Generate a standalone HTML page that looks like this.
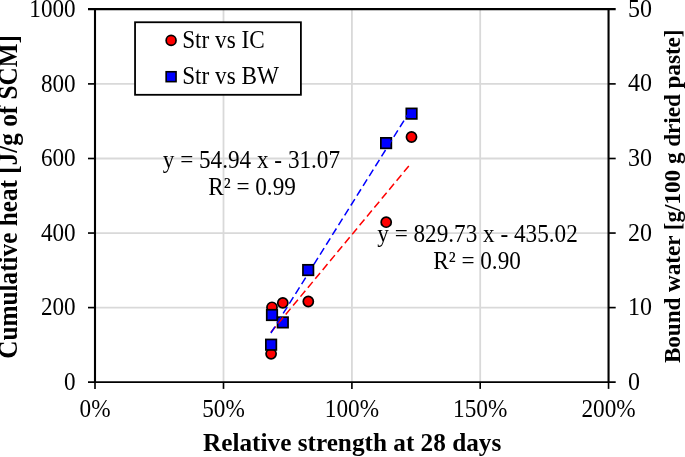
<!DOCTYPE html>
<html><head><meta charset="utf-8">
<style>
html,body{margin:0;padding:0;background:#fff;}
svg{display:block;}
text{font-family:"Liberation Serif","Times New Roman",serif;fill:#000;}
.t{font-size:24px;}
.l{font-size:24px;}
.e{font-size:23.2px;}
.b{font-size:25.25px;font-weight:bold;}
.b2{font-size:23.1px;font-weight:bold;}
</style></head><body>
<svg width="685" height="457" viewBox="0 0 685 457">
<rect width="685" height="457" fill="#fff"/>
<!-- gridlines -->
<g stroke="#d9d9d9" stroke-width="1.8" fill="none">
<line x1="223.5" y1="9.1" x2="223.5" y2="382.15"/>
<line x1="351.9" y1="9.1" x2="351.9" y2="382.15"/>
<line x1="480.2" y1="9.1" x2="480.2" y2="382.15"/>
<line x1="95" y1="307.6" x2="608.55" y2="307.6"/>
<line x1="95" y1="233.05" x2="608.55" y2="233.05"/>
<line x1="95" y1="158.5" x2="608.55" y2="158.5"/>
<line x1="95" y1="83.9" x2="608.55" y2="83.9"/>
</g>
<!-- axes -->
<g stroke="#000" stroke-width="2.1" fill="none">
<line x1="95" y1="9.1" x2="95" y2="382.15"/>
<line x1="608.55" y1="9.1" x2="608.55" y2="382.15"/>
</g>
<g stroke="#000" stroke-width="1.8" fill="none">
<line x1="88" y1="9.1" x2="615.7" y2="9.1" stroke-width="2.1"/>
<line x1="88" y1="382.15" x2="615.7" y2="382.15"/>
</g>
<g stroke="#000" stroke-width="1.65" fill="none">
<line x1="95" y1="382.15" x2="95" y2="388.9"/>
<line x1="223.5" y1="382.15" x2="223.5" y2="388.9"/>
<line x1="351.9" y1="382.15" x2="351.9" y2="388.9"/>
<line x1="480.2" y1="382.15" x2="480.2" y2="388.9"/>
<line x1="608.55" y1="382.15" x2="608.55" y2="388.9"/>
<line x1="88" y1="307.6" x2="95" y2="307.6"/>
<line x1="608.55" y1="307.6" x2="615.7" y2="307.6"/>
<line x1="88" y1="233.05" x2="95" y2="233.05"/>
<line x1="608.55" y1="233.05" x2="615.7" y2="233.05"/>
<line x1="88" y1="158.5" x2="95" y2="158.5"/>
<line x1="608.55" y1="158.5" x2="615.7" y2="158.5"/>
<line x1="88" y1="83.9" x2="95" y2="83.9"/>
<line x1="608.55" y1="83.9" x2="615.7" y2="83.9"/>
</g>
<!-- red circles -->
<g fill="#ff0000" stroke="#000" stroke-width="1.7">
<circle cx="271.1" cy="353.8" r="5.05"/>
<circle cx="272.0" cy="307.3" r="5.05"/>
<circle cx="282.8" cy="302.9" r="5.05"/>
<circle cx="308.3" cy="301.5" r="5.05"/>
<circle cx="386.2" cy="222.2" r="5.05"/>
<circle cx="411.5" cy="137.0" r="5.05"/>
</g>
<!-- blue squares -->
<g fill="#0000ff" stroke="#000" stroke-width="1.7">
<rect x="265.85" y="339.45" width="10.5" height="10.5"/>
<rect x="266.75" y="309.75" width="10.5" height="10.5"/>
<rect x="277.55" y="317.15" width="10.5" height="10.5"/>
<rect x="380.85" y="137.85" width="10.5" height="10.5"/>
<rect x="406.3" y="108.4" width="10.5" height="10.5"/>
</g>
<!-- trendlines -->
<g fill="none" stroke-width="1.5" stroke-dasharray="7.6 3.98">
<line x1="270.9" y1="332.3" x2="410.3" y2="164.2" stroke="#ff0000"/>
<line x1="270.9" y1="333.1" x2="412.1" y2="107.6" stroke="#0000ff"/>
</g>
<rect x="302.95" y="264.8" width="10.5" height="10.5" fill="#0000ff" stroke="#000" stroke-width="1.7"/>
<!-- legend -->
<rect x="135.05" y="22.25" width="165.85" height="72.55" fill="#fff" stroke="#000" stroke-width="1.8"/>
<circle cx="171.1" cy="40.4" r="4.95" fill="#ff0000" stroke="#000" stroke-width="1.7"/>
<rect x="166.15" y="71.75" width="9.9" height="9.9" fill="#0000ff" stroke="#000" stroke-width="1.6"/>
<text class="l" transform="translate(182.2,47.8) scale(0.968,1.06)">Str vs IC</text>
<text class="l" transform="translate(182.2,83.8) scale(0.968,1.06)">Str vs BW</text>
<!-- left tick labels -->
<g class="t" text-anchor="end">
<text transform="translate(75.6,389.9) scale(0.964,1.06)">0</text>
<text transform="translate(75.6,315.4) scale(0.964,1.06)">200</text>
<text transform="translate(75.6,240.9) scale(0.964,1.06)">400</text>
<text transform="translate(75.6,166.3) scale(0.964,1.06)">600</text>
<text transform="translate(75.6,91.7) scale(0.964,1.06)">800</text>
<text transform="translate(75.6,16.9) scale(0.964,1.06)">1000</text>
</g>
<!-- right tick labels -->
<g class="t" text-anchor="start">
<text transform="translate(627.9,389.6) scale(1,1.07)">0</text>
<text transform="translate(627.9,315.1) scale(1,1.07)">10</text>
<text transform="translate(627.9,240.6) scale(1,1.07)">20</text>
<text transform="translate(627.9,166.0) scale(1,1.07)">30</text>
<text transform="translate(627.9,91.4) scale(1,1.07)">40</text>
<text transform="translate(627.9,16.6) scale(1,1.07)">50</text>
</g>
<!-- bottom tick labels -->
<g class="t" text-anchor="middle">
<text transform="translate(95.0,416.7) scale(0.969,1.04)">0%</text>
<text transform="translate(223.5,416.7) scale(0.969,1.04)">50%</text>
<text transform="translate(351.9,416.7) scale(0.969,1.04)">100%</text>
<text transform="translate(480.2,416.7) scale(0.969,1.04)">150%</text>
<text transform="translate(608.5,416.7) scale(0.969,1.04)">200%</text>
</g>
<!-- equations -->
<g class="e" text-anchor="middle">
<text transform="translate(251.4,168.4) scale(1,1.06)">y = 54.94 x - 31.07</text>
<text transform="translate(252,195.1) scale(1,1.06)">R² = 0.99</text>
<text transform="translate(477.5,242.1) scale(1,1.06)">y = 829.73 x - 435.02</text>
<text transform="translate(477,268.8) scale(1,1.06)">R² = 0.90</text>
</g>
<!-- axis titles -->
<text class="b" x="203" y="451.2">Relative strength at 28 days</text>
<text class="b" text-anchor="middle" transform="translate(17.4,196.9) rotate(-90) scale(1,1.07)">Cumulative heat [J/g of SCM]</text>
<text class="b2" text-anchor="middle" transform="translate(679.8,196.3) rotate(-90) scale(1,1.04)">Bound water [g/100 g dried paste]</text>
</svg>
</body></html>
